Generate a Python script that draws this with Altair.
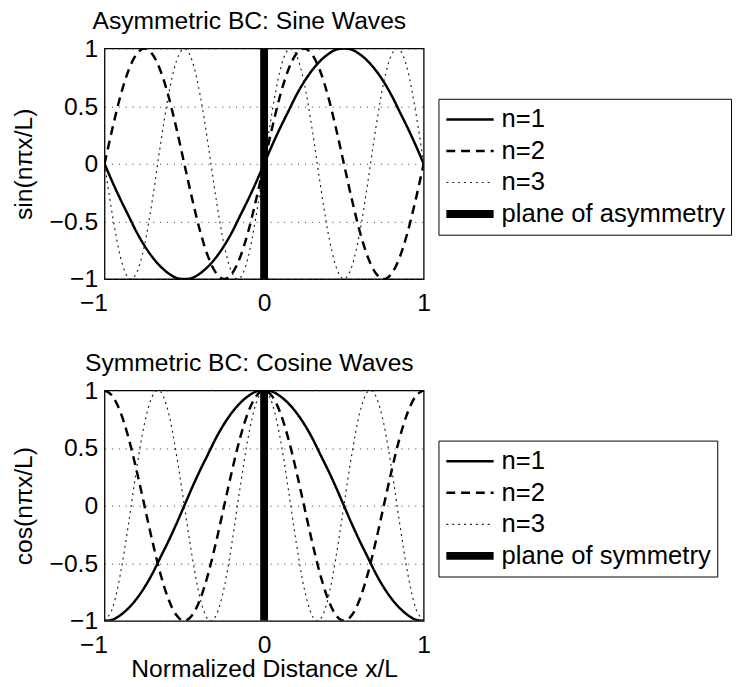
import altair as alt
import pandas as pd

FONT = "Liberation Sans"

# sample positions (normalized distance x/L)
x_vals = [-1.0, -0.95, -0.9, -0.85, -0.8, -0.75, -0.7, -0.65, -0.6, -0.55,
          -0.5, -0.45, -0.4, -0.35, -0.3, -0.25, -0.2, -0.15, -0.1, -0.05,
          0.0, 0.05, 0.1, 0.15, 0.2, 0.25, 0.3, 0.35, 0.4, 0.45,
          0.5, 0.55, 0.6, 0.65, 0.7, 0.75, 0.8, 0.85, 0.9, 0.95, 1.0]

# Asymmetric BC: sine waves
sin_n1 = [0, -0.16, -0.31, -0.45, -0.59, -0.71, -0.81, -0.89, -0.95, -0.99,
          -1, -0.99, -0.95, -0.89, -0.81, -0.71, -0.59, -0.45, -0.31, -0.16,
          0, 0.16, 0.31, 0.45, 0.59, 0.71, 0.81, 0.89, 0.95, 0.99,
          1, 0.99, 0.95, 0.89, 0.81, 0.71, 0.59, 0.45, 0.31, 0.16, 0]
sin_n2 = [0, 0.31, 0.59, 0.81, 0.95, 1, 0.95, 0.81, 0.59, 0.31,
          0, -0.31, -0.59, -0.81, -0.95, -1, -0.95, -0.81, -0.59, -0.31,
          0, 0.31, 0.59, 0.81, 0.95, 1, 0.95, 0.81, 0.59, 0.31,
          0, -0.31, -0.59, -0.81, -0.95, -1, -0.95, -0.81, -0.59, -0.31, 0]
sin_n3 = [0, -0.45, -0.81, -0.99, -0.95, -0.71, -0.31, 0.16, 0.59, 0.89,
          1, 0.89, 0.59, 0.16, -0.31, -0.71, -0.95, -0.99, -0.81, -0.45,
          0, 0.45, 0.81, 0.99, 0.95, 0.71, 0.31, -0.16, -0.59, -0.89,
          -1, -0.89, -0.59, -0.16, 0.31, 0.71, 0.95, 0.99, 0.81, 0.45, 0]

# Symmetric BC: cosine waves
cos_n1 = [-1, -0.99, -0.95, -0.89, -0.81, -0.71, -0.59, -0.45, -0.31, -0.16,
          0, 0.16, 0.31, 0.45, 0.59, 0.71, 0.81, 0.89, 0.95, 0.99,
          1, 0.99, 0.95, 0.89, 0.81, 0.71, 0.59, 0.45, 0.31, 0.16,
          0, -0.16, -0.31, -0.45, -0.59, -0.71, -0.81, -0.89, -0.95, -0.99, -1]
cos_n2 = [1, 0.95, 0.81, 0.59, 0.31, 0, -0.31, -0.59, -0.81, -0.95,
          -1, -0.95, -0.81, -0.59, -0.31, 0, 0.31, 0.59, 0.81, 0.95,
          1, 0.95, 0.81, 0.59, 0.31, 0, -0.31, -0.59, -0.81, -0.95,
          -1, -0.95, -0.81, -0.59, -0.31, 0, 0.31, 0.59, 0.81, 0.95, 1]
cos_n3 = [-1, -0.89, -0.59, -0.16, 0.31, 0.71, 0.95, 0.99, 0.81, 0.45,
          0, -0.45, -0.81, -0.99, -0.95, -0.71, -0.31, 0.16, 0.59, 0.89,
          1, 0.89, 0.59, 0.16, -0.31, -0.71, -0.95, -0.99, -0.81, -0.45,
          0, 0.45, 0.81, 0.99, 0.95, 0.71, 0.31, -0.16, -0.59, -0.89, -1]

# the plane at x = 0
plane_x = [0, 0]
plane_y = [-1, 1]

series_labels = ["n=1", "n=2", "n=3"]
x_ticks = [-1, 0, 1]
y_ticks = [-1, -0.5, 0, 0.5, 1]

LABEL_EXPR = "(datum.value < 0 ? '\u2212' : '') + abs(datum.value)"


def make_df(curves, plane_label):
    rows = []
    for label, ys in zip(series_labels, curves):
        for i, (xv, yv) in enumerate(zip(x_vals, ys)):
            rows.append({"x": xv, "y": yv, "series": label, "idx": i})
    for i, (xv, yv) in enumerate(zip(plane_x, plane_y)):
        rows.append({"x": xv, "y": yv, "series": plane_label, "idx": i})
    return pd.DataFrame(rows)


def panel(df, title, ytitle, plane_label, xtitle, legend_y):
    domain = series_labels + [plane_label]
    legend = alt.Legend(
        title=None, orient="none", legendX=339, legendY=legend_y,
        symbolType="stroke", symbolSize=2304, clipHeight=30, rowPadding=2,
        padding=6, strokeColor="black", fillColor="white",
        labelFont=FONT, labelFontSize=26, labelColor="black",
        labelOffset=4, symbolOffset=-2, labelLimit=400,
    )
    x_axis = alt.Axis(
        values=x_ticks, labelExpr=LABEL_EXPR, grid=False, ticks=False, domain=False,
        labelFont=FONT, labelFontSize=25, labelColor="black", labelPadding=12,
        labelAlign={"condition": {"test": "datum.value < 0", "value": "right"}, "value": "center"},
        labelOffset={"condition": {"test": "datum.value < 0", "value": 3}, "value": 0},
        title=xtitle, titleFont=FONT, titleFontSize=25, titleFontWeight="normal",
        titleColor="black", titlePadding=-1,
    )
    y_axis = alt.Axis(
        values=y_ticks, labelExpr=LABEL_EXPR, grid=True, gridDash=[1, 6],
        gridColor="#333", gridWidth=1, ticks=False, domain=False,
        labelFont=FONT, labelFontSize=25, labelColor="black", labelPadding=7,
        title=ytitle, titleFont=FONT, titleFontSize=25, titleFontWeight="normal",
        titleColor="black", titlePadding=13,
    )
    return alt.Chart(df).mark_line(clip=True, interpolate="cardinal", strokeCap="butt").encode(
        x=alt.X("x:Q", scale=alt.Scale(domain=[-1, 1], nice=False, zero=False), axis=x_axis),
        y=alt.Y("y:Q", scale=alt.Scale(domain=[-1, 1], nice=False, zero=False), axis=y_axis),
        color=alt.Color("series:N", scale=alt.Scale(type="ordinal", domain=domain,
                        range=["black", "black", "#222222", "black"]), legend=legend),
        strokeDash=alt.StrokeDash("series:N", scale=alt.Scale(type="ordinal", domain=domain,
                                  range=[[1, 0], [9, 6], [2, 4], [1, 0]]), legend=legend),
        strokeWidth=alt.StrokeWidth("series:N", scale=alt.Scale(type="ordinal", domain=domain,
                                    range=[2.5, 2.5, 1.2, 8]), legend=legend),
        order=alt.Order("idx:Q"),
    ).properties(
        width=324, height=234,
        title=alt.TitleParams(title, font=FONT, fontSize=25, fontWeight="normal",
                              color="black", anchor="middle", dx=-15, offset=3),
    )


top = panel(make_df([sin_n1, sin_n2, sin_n3], "plane of asymmetry"),
            "Asymmetric BC: Sine Waves", "sin(n\u03c0x/L)", "plane of asymmetry", None, 51)
bottom = panel(make_df([cos_n1, cos_n2, cos_n3], "plane of symmetry"),
               "Symmetric BC: Cosine Waves", "cos(n\u03c0x/L)", "plane of symmetry",
               "Normalized Distance x/L", 51)

chart = alt.vconcat(top, bottom, spacing=34).resolve_scale(
    color="independent", strokeDash="independent", strokeWidth="independent"
).resolve_legend(
    color="independent", strokeDash="independent", strokeWidth="independent"
).properties(
    padding={"left": 2, "top": -5, "right": 0, "bottom": 0},
    background="white",
).configure_view(stroke="black", strokeWidth=1.3)

chart.save("out.html", embed_options={"renderer": "svg", "actions": False})
